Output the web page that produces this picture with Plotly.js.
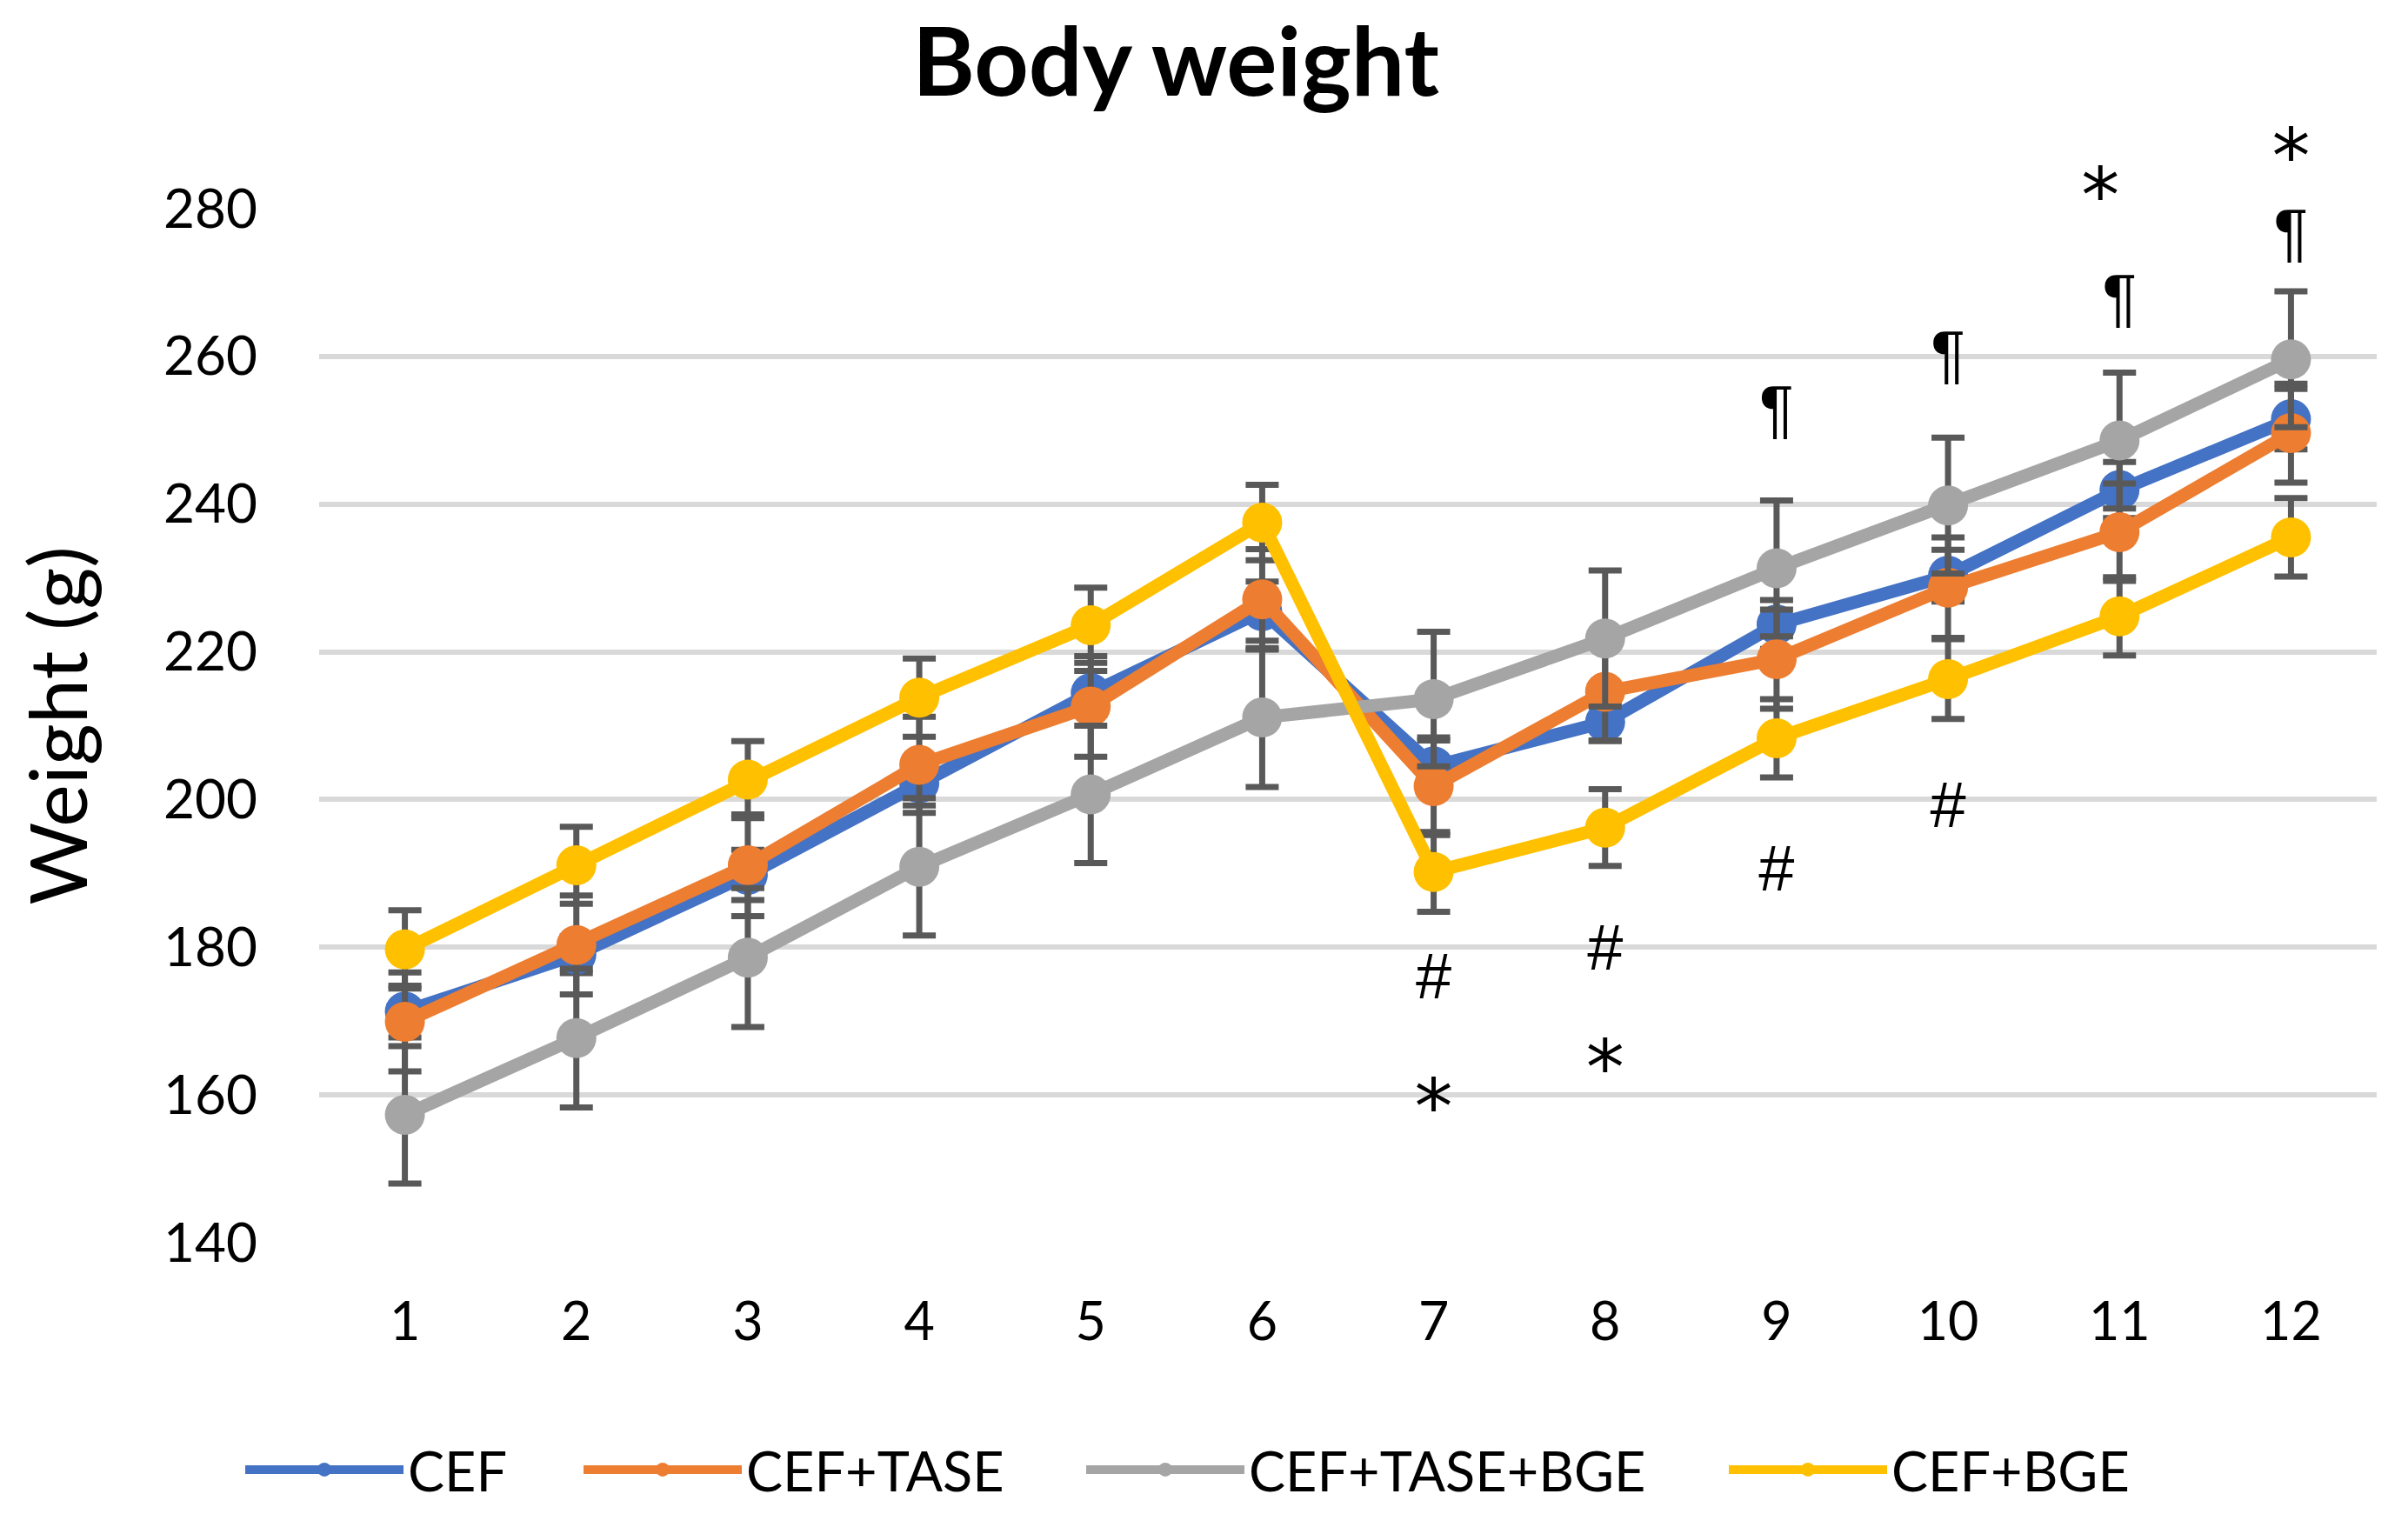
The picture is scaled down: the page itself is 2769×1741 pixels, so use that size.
<!DOCTYPE html>
<html>
<head>
<meta charset="utf-8">
<script src="https://cdn.plot.ly/plotly-3.0.1.min.js"></script>
<style>html,body{margin:0;padding:0;background:#fff;}#chart{width:2769px;height:1741px;}</style>
</head>
<body>
<div id="chart"></div>
<script>
// ---- data ----
var weeks = ['1','2','3','4','5','6','7','8','9','10','11','12'];

var seriesNames = ['CEF', 'CEF+TASE', 'CEF+TASE+BGE', 'CEF+BGE'];

var cef        = [171.3, 179.0, 189.8, 202.2, 214.4, 225.5, 204.5, 210.5, 223.7, 230.3, 241.9, 251.5];
var cefErr     = [3.5, 2.5, 3.4, 3.0, 3.0, 4.0, 3.5, 2.6, 3.3, 3.5, 3.8, 4.1];

var cefTase    = [169.9, 180.3, 191.1, 204.7, 212.6, 227.1, 201.8, 214.6, 219.0, 228.7, 236.2, 249.6];
var cefTaseErr = [6.7, 6.7, 6.9, 6.5, 6.8, 6.8, 6.6, 6.6, 6.7, 6.8, 6.6, 6.7];

var cefTaseBge    = [157.3, 167.7, 178.6, 190.9, 200.7, 211.1, 213.6, 221.8, 231.3, 239.8, 248.6, 259.6];
var cefTaseBgeErr = [9.3, 9.4, 9.4, 9.3, 9.3, 9.4, 9.1, 9.2, 9.2, 9.2, 9.2, 9.2];

var cefBge    = [179.7, 191.1, 202.7, 213.8, 223.6, 237.5, 190.2, 196.2, 208.3, 216.3, 224.8, 235.5];
var cefBgeErr = [5.3, 5.2, 5.2, 5.3, 5.1, 5.1, 5.4, 5.2, 5.3, 5.4, 5.3, 5.3];

// significance marks: week, y-level of the text line, symbol
var markWeek = ['7','7','8','8','9','9','10','10','11','11','12','12'];
var markY    = [175.3, 157.4, 179.2, 162.7, 252.1, 189.9, 259.6, 198.5, 280.8, 267.2, 286.1, 276.1];
var markText = ['#','*','#','*','¶','#','¶','#','*','¶','*','¶'];

var yTicks = [140, 160, 180, 200, 220, 240, 260, 280];
var yRange = [140, 280];
var markRange = [140, 292];   // value scale that also holds the marks above 280

// ---- styling ----
var colors = ['#4472C4', '#ED7D31', '#A5A5A5', '#FFC000'];
var values = [cef, cefTase, cefTaseBge, cefBge];
var errs   = [cefErr, cefTaseErr, cefTaseBgeErr, cefBgeErr];
var legendIds = ['legend', 'legend2', 'legend3', 'legend4'];
var legendLeft = [277, 666, 1244, 1983];   // px, left edge of each legend entry
var FONT = 'Lato, "Open Sans", sans-serif';
var MARKFONT = '"Liberation Sans", Arial, sans-serif';
var STARFONT = '"DejaVu Sans", sans-serif';
var W = 2769, H = 1741;
var M = {l: 367, r: 36, t: 138, b: 312};
// main axis occupies the lower part of the plot area so both value axes share one px-per-unit scale
var yDomainTop = (yRange[1] - yRange[0]) / (markRange[1] - markRange[0]);

var traces = seriesNames.map(function (name, i) {
  return {
    type: 'scatter',
    mode: 'lines+markers',
    name: name,
    legend: legendIds[i],
    x: weeks,
    y: values[i],
    line: {color: colors[i], width: 15},
    marker: {color: colors[i], size: 46},
    error_y: {type: 'data', array: errs[i], visible: true, color: '#595959', thickness: 7, width: 19},
    cliponaxis: false
  };
});

traces.push({
  type: 'scatter',
  mode: 'text',
  x: markWeek,
  y: markY,
  yaxis: 'y2',
  text: markText,
  textposition: markWeek.map(function (w, i) {
    return (w === '11' && markText[i] === '*') ? 'middle left' : 'middle center';
  }),
  textfont: {
    family: markText.map(function (t) { return t === '*' ? STARFONT : MARKFONT; }),
    size: markText.map(function (t) { return t === '*' ? 88 : 74; }),
    color: '#000000'
  },
  showlegend: false,
  hoverinfo: 'skip',
  cliponaxis: false
});

var layout = {
  width: W, height: H,
  paper_bgcolor: '#ffffff', plot_bgcolor: 'rgba(0,0,0,0)',
  margin: {l: M.l, r: M.r, t: M.t, b: M.b, pad: 0},
  font: {family: FONT, color: '#000000'},
  title: {
    text: '<b>Body weight</b>',
    font: {family: FONT, size: 109, color: '#000000'},
    xref: 'container', x: 0.4883, xanchor: 'center',
    yref: 'container', y: 0.959, yanchor: 'middle'
  },
  xaxis: {
    type: 'category',
    range: [-0.5, 11.5],
    showgrid: false, zeroline: false, showline: false,
    ticks: '',
    ticklabelstandoff: 50,
    tickfont: {family: FONT, size: 61, color: '#000000'},
    fixedrange: true
  },
  yaxis: {
    domain: [0, yDomainTop],
    range: yRange,
    tickvals: yTicks,
    showgrid: true, gridcolor: '#D9D9D9', gridwidth: 6,
    zeroline: false, showline: false,
    ticks: '',
    ticklabelstandoff: 70,
    tickfont: {family: FONT, size: 62, color: '#000000'},
    title: {text: 'Weight (g)', font: {family: FONT, size: 92, color: '#000000'}, standoff: 56},
    fixedrange: true
  },
  yaxis2: {
    domain: [0, 1],
    range: markRange,
    anchor: 'x',
    visible: false,
    showgrid: false, zeroline: false,
    fixedrange: true
  },
  showlegend: true
};

legendIds.forEach(function (id, i) {
  layout[id] = {
    orientation: 'h',
    xref: 'container', x: legendLeft[i] / W, xanchor: 'left',
    yref: 'container', y: 1 - 1690 / H, yanchor: 'middle',
    font: {family: FONT, size: 63, color: '#000000'},
    itemwidth: 182,
    bgcolor: 'rgba(0,0,0,0)', borderwidth: 0
  };
});

Plotly.newPlot('chart', traces, layout, {displayModeBar: false, staticPlot: true});
</script>
</body>
</html>
